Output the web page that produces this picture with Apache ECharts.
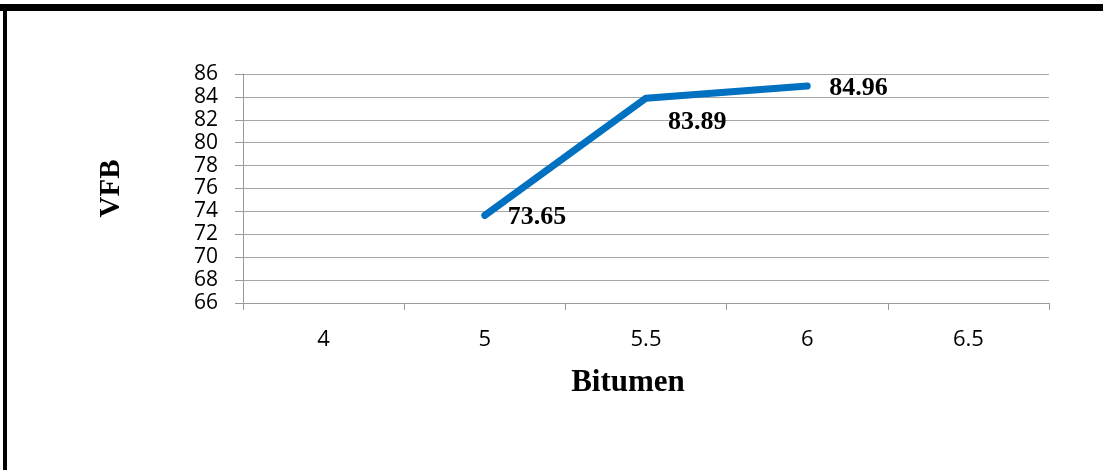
<!DOCTYPE html>
<html>
<head>
<meta charset="utf-8">
<script src="https://cdn.jsdelivr.net/npm/echarts@6/dist/echarts.min.js"></script>
<style>
  html, body { margin: 0; padding: 0; background: #fff; }
  #chart { width: 1103px; height: 470px; }
</style>
</head>
<body>
<div id="chart"></div>
<script>
// Bitumen content (categories) and the VFB measured at each
const categories = ['4', '5', '5.5', '6', '6.5'];
const vfbValues = [null, 73.65, 83.89, 84.96, null];
const yTicks = { min: 66, max: 86, interval: 2 };

// label placement per point (offsets in px from the point)
const labelOffsets = [null, [18, 2], [17, 24], [17, 2], null];

const chart = echarts.init(document.getElementById('chart'), null, { renderer: 'canvas' });

const seriesData = vfbValues.map((v, i) => {
  if (v === null) return null;
  return {
    value: v,
    label: {
      show: true,
      position: 'right',
      offset: labelOffsets[i],
      formatter: (p) => p.value.toFixed(2),
      fontFamily: 'Liberation Serif, Times New Roman, serif',
      fontWeight: 'bold',
      fontSize: 26,
      color: '#000'
    }
  };
});

chart.setOption({
  animation: false,
  backgroundColor: '#fff',
  grid: { left: 243, right: 54, top: 74, bottom: 167, containLabel: false },
  xAxis: {
    type: 'category',
    data: categories,
    boundaryGap: true,
    name: 'Bitumen',
    nameLocation: 'middle',
    nameGap: 64,
    nameTextStyle: {
      fontFamily: 'Liberation Serif, Times New Roman, serif',
      fontWeight: 'bold',
      fontSize: 31,
      color: '#000',
      padding: [0, 36, 0, 0]
    },
    axisLine: { lineStyle: { color: '#9a9a9a', width: 1 } },
    axisTick: { show: true, alignWithLabel: false, length: 7, inside: false, lineStyle: { color: '#9a9a9a' } },
    axisLabel: { fontFamily: 'Open Sans, Noto Sans, sans-serif', fontSize: 22, color: '#000', margin: 26 },
    splitLine: { show: false }
  },
  yAxis: {
    type: 'value',
    min: yTicks.min,
    max: yTicks.max,
    interval: yTicks.interval,
    name: 'VFB',
    nameLocation: 'middle',
    nameRotate: 90,
    nameGap: 117,
    nameTextStyle: {
      fontFamily: 'Liberation Serif, Times New Roman, serif',
      fontWeight: 'bold',
      fontSize: 29,
      color: '#000'
    },
    axisLine: { show: true, lineStyle: { color: '#9a9a9a', width: 1 } },
    axisTick: { show: true, length: 8, lineStyle: { color: '#9a9a9a' } },
    axisLabel: { fontFamily: 'Open Sans, Noto Sans, sans-serif', fontSize: 21, color: '#000', margin: 25, lineHeight: 21 },
    splitLine: { show: true, lineStyle: { color: '#a6a6a6', width: 1 } }
  },
  series: [{
    type: 'line',
    data: seriesData,
    connectNulls: false,
    showSymbol: true,
    symbol: 'circle',
    symbolSize: 0,
    lineStyle: { color: '#0070C0', width: 7, cap: 'round', join: 'round' },
    itemStyle: { color: '#0070C0' }
  }],
  graphic: [
    // frame around the chart area
    { type: 'rect', shape: { x: 0, y: 4, width: 1103, height: 7 }, style: { fill: '#000' }, silent: true },
    { type: 'rect', shape: { x: 3, y: 4, width: 4, height: 466 }, style: { fill: '#000' }, silent: true }
  ]
});
</script>
</body>
</html>
